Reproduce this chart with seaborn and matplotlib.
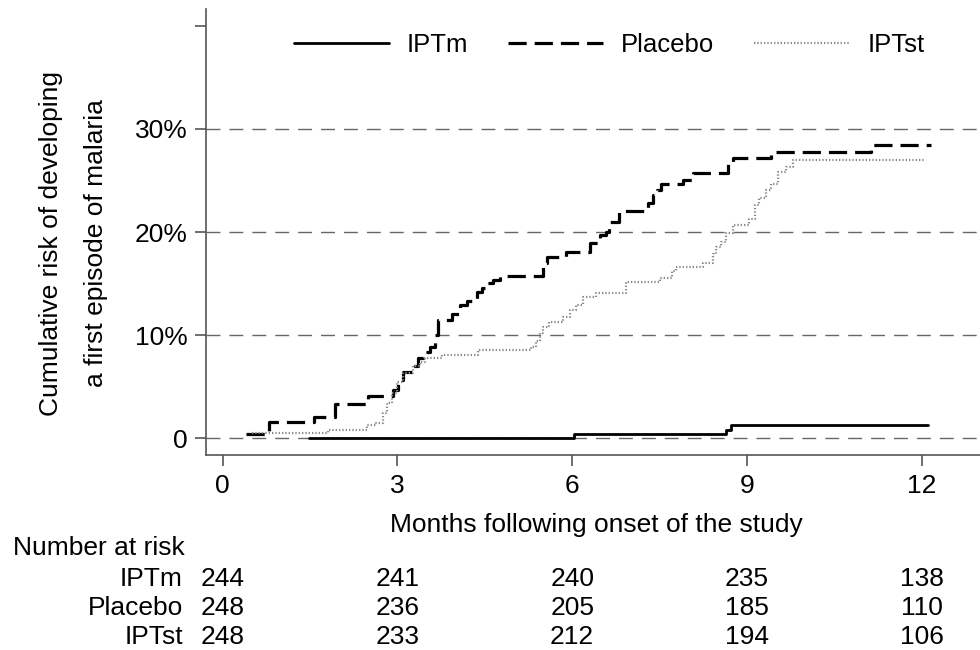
import numpy as np
import pandas as pd
import matplotlib
matplotlib.use("Agg")
import matplotlib.pyplot as plt
import matplotlib.transforms as mtransforms
from matplotlib.lines import Line2D
import seaborn as sns

# step points: months, cumulative risk (%)
iptm_t = [1.48, 6.03, 8.64, 8.73, 12.10]
iptm_r = [0.0, 0.41, 0.85, 1.3, 1.3]

placebo_t = [0.41, 0.79, 1.57, 1.93, 2.50, 2.93, 3.01, 3.10, 3.27, 3.35,
             3.44, 3.56, 3.64, 3.69, 3.93, 4.07, 4.19, 4.36, 4.45, 4.53,
             4.64, 4.76, 5.50, 5.56, 5.90, 6.30, 6.48, 6.58, 6.64, 6.81,
             7.27, 7.30, 7.38, 7.45, 7.53, 7.90, 8.07, 8.67, 8.76, 9.41,
             11.13, 12.16]
placebo_r = [0.4, 1.6, 2.1, 3.3, 4.1, 4.7, 5.7, 6.4, 7.0, 7.8,
             8.4, 8.9, 10.0, 11.5, 12.1, 12.9, 13.3, 14.2, 14.6, 15.1,
             15.4, 15.75, 17.0, 17.6, 18.1, 18.9, 19.7, 20.0, 21.0, 22.0,
             22.3, 22.8, 23.6, 24.1, 24.7, 25.0, 25.7, 26.7, 27.2, 27.8,
             28.4, 28.4]

iptst_t = [0.50, 1.81, 2.47, 2.63, 2.76, 2.83, 2.90, 2.99, 3.10, 3.27,
           3.39, 3.47, 3.76, 4.39, 5.30, 5.38, 5.44, 5.50, 5.61, 5.84,
           5.96, 6.07, 6.19, 6.41, 6.93, 7.50, 7.72, 7.79, 8.24, 8.41,
           8.47, 8.55, 8.64, 8.76, 9.04, 9.13, 9.21, 9.33, 9.41, 9.53,
           9.67, 9.79, 12.04]
iptst_r = [0.5, 0.85, 1.33, 1.5, 2.5, 3.4, 4.4, 5.5, 6.3, 7.0,
           7.45, 7.8, 8.1, 8.6, 8.9, 9.4, 10.2, 10.8, 11.3, 11.8,
           12.45, 12.9, 13.7, 14.1, 15.2, 15.5, 16.2, 16.65, 17.0, 17.9,
           18.6, 19.0, 19.9, 20.7, 21.3, 22.6, 23.3, 24.1, 24.7, 25.8,
           26.3, 27.0, 27.0]

GROUPS = ["IPTm", "Placebo", "IPTst"]
risk_months = [0, 3, 6, 9, 12]
iptm_at_risk = [244, 241, 240, 235, 138]
placebo_at_risk = [248, 236, 205, 185, 110]
iptst_at_risk = [248, 233, 212, 194, 106]

y_ticks = [0, 0.1, 0.2, 0.3, 0.4]
y_labels = ["0", "10%", "20%", "30%", ""]
grid_levels = [0, 0.1, 0.2, 0.3]

curves = pd.concat([
    pd.DataFrame({"month": iptm_t, "risk": np.array(iptm_r) / 100, "group": "IPTm"}),
    pd.DataFrame({"month": placebo_t, "risk": np.array(placebo_r) / 100, "group": "Placebo"}),
    pd.DataFrame({"month": iptst_t, "risk": np.array(iptst_r) / 100, "group": "IPTst"}),
], ignore_index=True)
at_risk = {"IPTm": iptm_at_risk, "Placebo": placebo_at_risk, "IPTst": iptst_at_risk}

STYLES = {
    "IPTm":    dict(color="black", lw=2.0, ls="-"),
    "Placebo": dict(color="black", lw=2.3, ls=(0, (5.7, 2.5))),
    "IPTst":   dict(color="#8a8a8a", lw=1.6, ls=(0, (0.6, 0.9))),
}

sns.set_style("ticks")
plt.rcParams["font.family"] = ["Liberation Sans", "DejaVu Sans"]
plt.rcParams["font.size"] = 19
plt.rcParams["text.color"] = "black"
plt.rcParams["axes.labelcolor"] = "black"
plt.rcParams["xtick.labelcolor"] = "black"
plt.rcParams["ytick.labelcolor"] = "black"

fig = plt.figure(figsize=(9.8, 6.5), dpi=100)
ax = fig.add_axes([0.2099, 0.30, 0.7901, 0.686])

for lev in grid_levels:
    ax.axhline(lev, color="#666666", lw=1.0, ls=(0, (10, 6.5)), zorder=0)

for g in GROUPS:
    st = STYLES[g]
    sns.lineplot(data=curves[curves["group"] == g], x="month", y="risk",
                 drawstyle="steps-post", estimator=None, ax=ax,
                 color=st["color"], lw=st["lw"], legend=False)
    ax.lines[-1].set_linestyle(st["ls"])

ax.set_xlim(-0.29, 13.0)
ax.set_ylim(-0.016, 0.416)
ax.set_xticks(risk_months)
ax.set_yticks(y_ticks)
ax.set_yticklabels(y_labels)
ax.tick_params(axis="both", length=8, width=1.2, color="#555555",
               labelsize=19, labelcolor="black")
ax.tick_params(axis="x", pad=6)
ax.tick_params(axis="y", pad=5)
for side in ["top", "right"]:
    ax.spines[side].set_visible(False)
for side in ["left", "bottom"]:
    ax.spines[side].set_color("#555555")
    ax.spines[side].set_linewidth(1.2)

ax.set_xlabel("Months following onset of the study", fontsize=19)
ax.xaxis.set_label_coords(0.505, -0.13)
ax.set_ylabel("Cumulative risk of developing\na first episode of malaria",
              fontsize=19, linespacing=2.1)
ax.yaxis.set_label_coords(-0.126, 0.475)

handles = [Line2D([], [], color=STYLES[g]["color"], lw=STYLES[g]["lw"],
                  ls=STYLES[g]["ls"]) for g in GROUPS]
ax.legend(handles, GROUPS, loc="center", bbox_to_anchor=(0.521, 0.919),
          ncol=3, frameon=False, fontsize=18.5, handlelength=3.7,
          handletextpad=0.7, columnspacing=1.55, borderpad=0)

# number at risk table below the axis
trans = mtransforms.blended_transform_factory(ax.transData, fig.transFigure)
fig.text(0.013, 0.157, "Number at risk", ha="left", va="center", fontsize=19)
row_y = [0.109, 0.0646, 0.020]
for g, yy in zip(GROUPS, row_y):
    fig.text(0.1867, yy, g, ha="right", va="center", fontsize=19)
    for m, n in zip(risk_months, at_risk[g]):
        ax.text(m, yy, str(n), transform=trans, ha="center", va="center",
                fontsize=19, clip_on=False)

fig.savefig("out.png", dpi=100)
